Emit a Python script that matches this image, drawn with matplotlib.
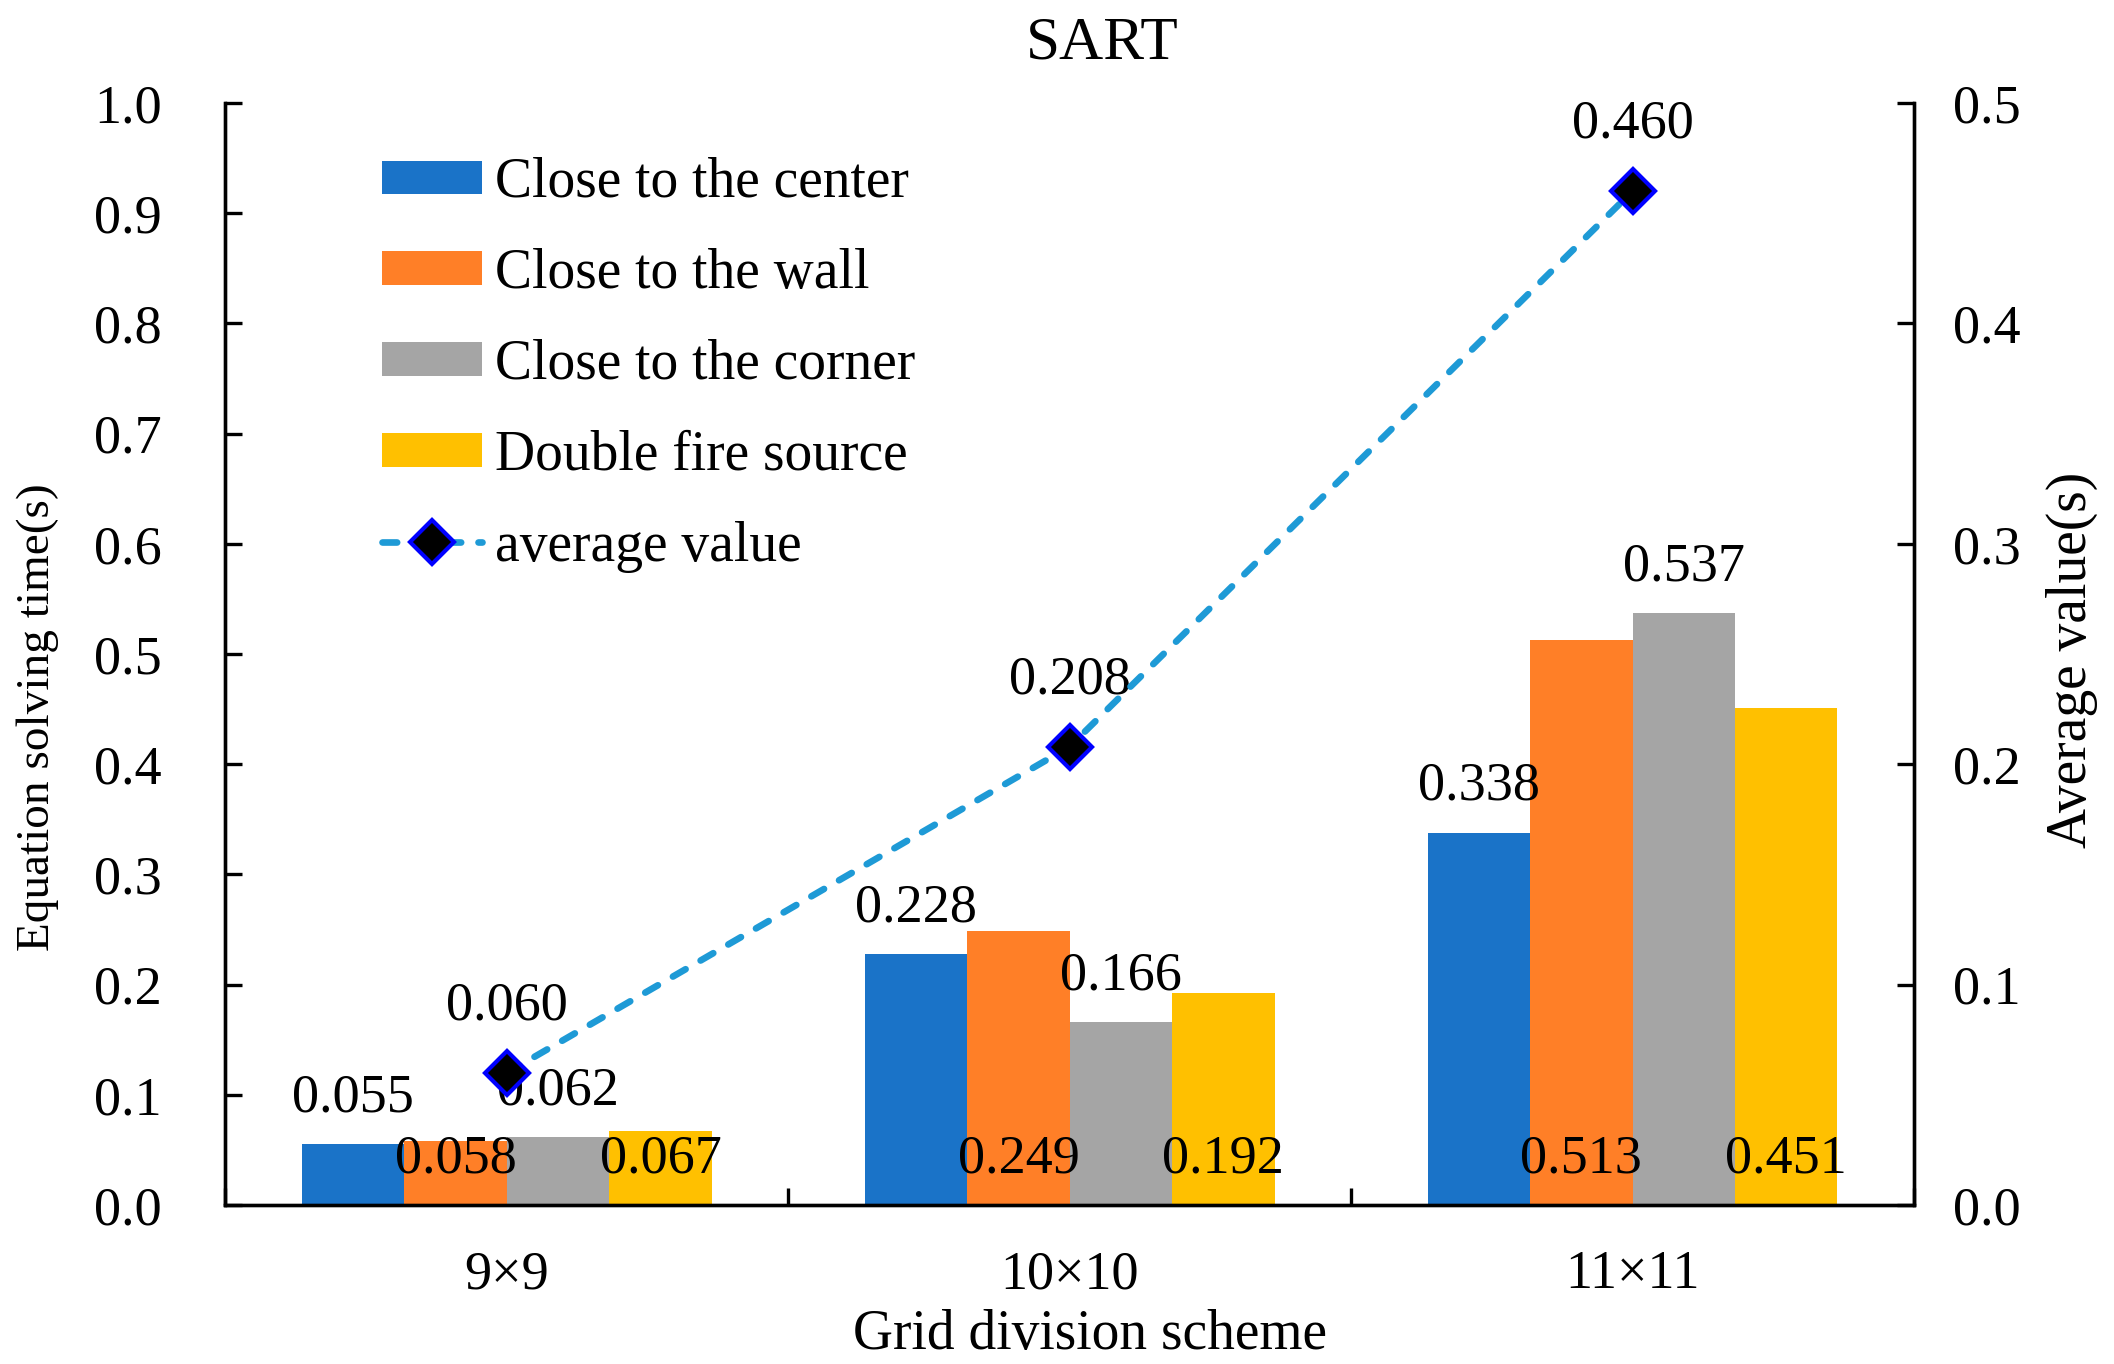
import numpy as np
import matplotlib
matplotlib.use("Agg")
import matplotlib.pyplot as plt
from matplotlib.ticker import FormatStrFormatter, MultipleLocator

plt.rcParams['font.family'] = ['Liberation Serif', 'DejaVu Serif']

# data
categories = ['9×9', '10×10', '11×11']
series_names = ['Close to the center', 'Close to the wall', 'Close to the corner', 'Double fire source']
center = [0.055, 0.228, 0.338]
wall = [0.058, 0.249, 0.513]
corner = [0.062, 0.166, 0.537]
double_fire = [0.067, 0.192, 0.451]
average = [0.060, 0.208, 0.460]

colors = ['#1A73C8', '#FF7F27', '#A5A5A5', '#FFC000']
# Excel put some labels above the bar, some at its base
label_above = [True, False, True, False]

fig = plt.figure(figsize=(10.57, 6.82), dpi=200)
ax = fig.add_axes([0.1066, 0.1165, 0.7988, 0.808])
ax2 = ax.twinx()

x = np.arange(len(categories))
w = 0.182
series = [center, wall, corner, double_fire]
handles = []
for i, (vals, name, col) in enumerate(zip(series, series_names, colors)):
    pos = x + (i - 1.5) * w
    b = ax.bar(pos, vals, w, color=col, label=name, zorder=2)
    handles.append(b)
    for px, v in zip(pos, vals):
        y0 = v if label_above[i] else 0
        ax.annotate(f'{v:.3f}', (px, y0), xytext=(0, 16.5), textcoords='offset points',
                    ha='center', va='center', fontsize=19.5, zorder=5)

ln, = ax2.plot(x, average, ls='--', color='#1E9AD6', lw=2.4, dashes=(2.2, 2.6),
               dash_capstyle='round', marker='D', markersize=11,
               markerfacecolor='black', markeredgecolor='#0000FF', markeredgewidth=1.5,
               label='average value', zorder=4)
for px, v in zip(x, average):
    ax2.annotate(f'{v:.3f}', (px, v), xytext=(0, 24), textcoords='offset points',
                 ha='center', va='center', fontsize=19.5)

ax.set_xlim(-0.5, 2.5)
ax.set_ylim(0, 1.0)
ax2.set_ylim(0, 0.5)
ax.yaxis.set_major_locator(MultipleLocator(0.1))
ax2.yaxis.set_major_locator(MultipleLocator(0.1))
ax.yaxis.set_major_formatter(FormatStrFormatter('%.1f'))
ax2.yaxis.set_major_formatter(FormatStrFormatter('%.1f'))

# category boundaries as ticks, names in between
ax.set_xticks([-0.5, 0.5, 1.5, 2.5])
ax.set_xticklabels([])
ax.set_xticks(x, minor=True)
ax.set_xticklabels(categories, minor=True)
ax.tick_params(axis='x', which='major', direction='in', length=6, width=1.2)
ax.tick_params(axis='x', which='minor', length=0, pad=16, labelsize=19.5)
ax.tick_params(axis='y', direction='in', length=6, width=1.2, pad=23, labelsize=19.5)
ax2.tick_params(axis='y', direction='in', length=6, width=1.2, pad=14, labelsize=19.5)

for a in (ax, ax2):
    a.spines['top'].set_visible(False)
    for s in ('left', 'right', 'bottom'):
        a.spines[s].set_linewidth(1.2)

ax.set_ylabel('Equation solving time(s)', fontsize=17)
ax.yaxis.set_label_coords(-0.111, 0.443)
ax.yaxis.label.set_va('center')
ax2.set_ylabel('Average value(s)', fontsize=20, rotation=90)
ax2.yaxis.set_label_coords(1.0936, 0.495)
ax2.yaxis.label.set_va('center')
ax.set_xlabel('Grid division scheme', fontsize=20)
ax.xaxis.set_label_coords(0.512, -0.118)
ax.xaxis.label.set_va('center')
ax.set_title('SART', fontsize=22, x=0.519, y=1.039, va='center')

ax2.legend(handles + [ln], series_names + ['average value'], loc='upper left',
           bbox_to_anchor=(0.0925, 0.951), frameon=False, fontsize=20,
           handlelength=1.8, handleheight=0.55, handletextpad=0.25,
           labelspacing=0.7, borderpad=0, borderaxespad=0)

fig.savefig('out.png', dpi=200)
